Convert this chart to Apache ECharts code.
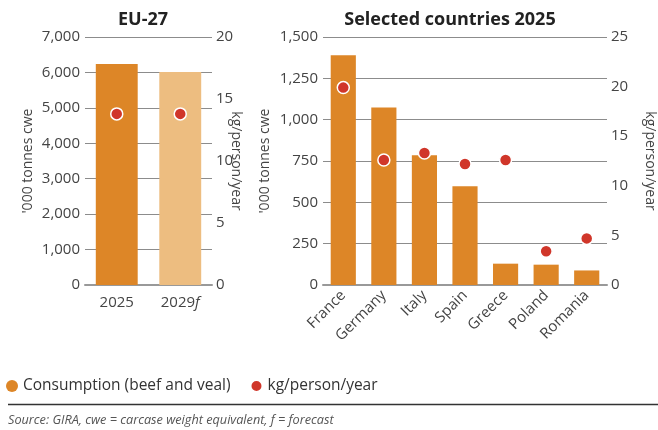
<!DOCTYPE html>
<html>
<head>
<meta charset="utf-8">
<script src="https://cdn.jsdelivr.net/npm/echarts@6/dist/echarts.min.js"></script>
<style>
  html, body { margin: 0; padding: 0; background: #fff; }
  #chart { width: 658px; height: 430px; }
</style>
</head>
<body>
<div id="chart"></div>
<script>
// EU-27 totals
const euYears = ['2025', '2029f'];
const euConsumption = [6240, 6010];      // '000 tonnes cwe
const euPerCapita = [13.8, 13.8];        // kg/person/year

// Selected countries, 2025
const countries = ['France', 'Germany', 'Italy', 'Spain', 'Greece', 'Poland', 'Romania'];
const countryConsumption = [1390, 1073, 785, 597, 129, 123, 88];
const countryPerCapita = [19.9, 12.6, 13.3, 12.2, 12.6, 3.4, 4.7];

const ORANGE = '#DD8627';
const LIGHT = '#EDBD80';
const RED = '#D0362A';
const FONT = '"Open Sans", Lato, sans-serif';
const TXT = '#444';

const chart = echarts.init(document.getElementById('chart'), null, { renderer: 'canvas' });

function valueAxis(gridIndex, max, interval, name, position, nameGap, showSplit) {
  return {
    type: 'value', gridIndex, min: 0, max, interval, position,
    name, nameLocation: 'middle', nameGap, nameMoveOverlap: false,
    nameRotate: position === 'right' ? -90 : 90,
    nameTextStyle: { fontFamily: FONT, fontSize: 14, color: TXT },
    axisLine: { show: false }, axisTick: { show: false },
    axisLabel: {
      fontFamily: FONT, fontSize: 15, color: TXT, margin: position === 'right' ? 4 : 5,
      formatter: v => v.toLocaleString('en-US')
    },
    splitLine: { show: showSplit, lineStyle: { color: '#8c8c8c', width: 1 } }
  };
}

function catAxis(gridIndex, data, rotate) {
  return {
    type: 'category', gridIndex, data,
    axisLine: { show: true, lineStyle: { color: '#999', width: 2 } },
    axisTick: { show: false },
    axisLabel: {
      fontFamily: FONT, fontSize: 15, color: TXT, rotate, margin: rotate ? 8 : 10, interval: 0,
      // forecast suffix drawn in italics
      formatter: v => v.endsWith('f') ? v.slice(0, -1) + '{i|f}' : v,
      rich: { i: { fontFamily: FONT, fontSize: 15, fontStyle: 'italic', color: TXT } }
    }
  };
}

const dotStyle = { color: RED, opacity: 1, borderColor: '#fff', borderWidth: 1.5 };

chart.setOption({
  animation: false,
  title: [
    { text: 'EU-27', left: 138, top: 6, textAlign: 'center',
      textStyle: { fontFamily: FONT, fontSize: 18, fontWeight: 'bold', color: '#222' } },
    { text: 'Selected countries 2025', left: 445, top: 6, textAlign: 'center',
      textStyle: { fontFamily: FONT, fontSize: 18, fontWeight: 'bold', color: '#222' } }
  ],
  grid: [
    { left: 85, right: 658 - 212, top: 37, bottom: 430 - 285 },
    { left: 323, right: 658 - 615, top: 37, bottom: 430 - 285 }
  ],
  xAxis: [catAxis(0, euYears, 0), catAxis(1, countries, 45)],
  yAxis: [
    valueAxis(0, 7000, 1000, "'000 tonnes cwe", 'left', 50, true),
    valueAxis(0, 20, 5, 'kg/person/year', 'right', 17, false),
    valueAxis(1, 1500, 250, "'000 tonnes cwe", 'left', 51, true),
    valueAxis(1, 25, 5, 'kg/person/year', 'right', 36, false)
  ],
  legend: {
    left: 1, top: 373, itemGap: 19, itemWidth: 12, itemHeight: 12,
    icon: 'circle',
    textStyle: { fontFamily: FONT, fontSize: 15.5, color: '#333' },
    data: [
      { name: 'Consumption (beef and veal)', itemStyle: { color: ORANGE } },
      { name: 'kg/person/year', itemStyle: { color: RED } }
    ]
  },
  graphic: [
    { type: 'line', shape: { x1: 8, y1: 404.5, x2: 658, y2: 404.5 }, style: { stroke: '#333', lineWidth: 1.5 } },
    { type: 'text', left: 8, top: 414, style: {
        text: 'Source: GIRA, cwe = carcase weight equivalent, f = forecast',
        fontFamily: FONT, fontSize: 12.7, fontStyle: 'italic', fill: '#555' } }
  ],
  series: [
    { name: 'Consumption (beef and veal)', type: 'bar', xAxisIndex: 0, yAxisIndex: 0, barWidth: '66%',
      data: euConsumption.map((v, i) => ({ value: v, itemStyle: { color: i === 0 ? ORANGE : LIGHT } })) },
    { name: 'kg/person/year', type: 'scatter', xAxisIndex: 0, yAxisIndex: 1, symbolSize: 12,
      itemStyle: dotStyle, data: euPerCapita },
    { name: 'Consumption (beef and veal)', type: 'bar', xAxisIndex: 1, yAxisIndex: 2, barWidth: '62%',
      itemStyle: { color: ORANGE }, data: countryConsumption },
    { name: 'kg/person/year', type: 'scatter', xAxisIndex: 1, yAxisIndex: 3, symbolSize: 12,
      itemStyle: dotStyle, data: countryPerCapita }
  ]
});
</script>
</body>
</html>
